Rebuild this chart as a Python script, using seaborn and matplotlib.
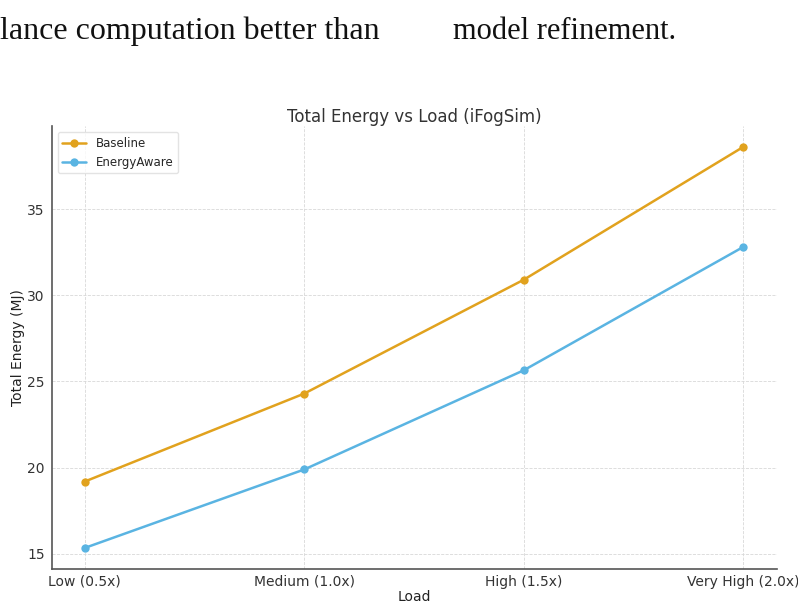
import pandas as pd
import matplotlib.pyplot as plt
import seaborn as sns

# data
loads = ["Low (0.5x)", "Medium (1.0x)", "High (1.5x)", "Very High (2.0x)"]
baseline = [19.2, 24.3, 30.9, 38.6]
energy_aware = [15.35, 19.9, 25.65, 32.8]
series_names = ["Baseline", "EnergyAware"]
palette = {"Baseline": "#E1A21E", "EnergyAware": "#5AB4E2"}

df = pd.DataFrame({
    "Load": loads * 2,
    "pos": list(range(len(loads))) * 2,
    "Total Energy (MJ)": baseline + energy_aware,
    "Series": [series_names[0]] * len(loads) + [series_names[1]] * len(loads),
})

sns.set_theme(style="white")
plt.rcParams['font.family'] = ['DejaVu Sans']

fig = plt.figure(figsize=(7.98, 6.04), dpi=100)
ax = fig.add_axes([0.065, 0.058, 0.909, 0.733])

sns.lineplot(data=df, x="pos", y="Total Energy (MJ)", hue="Series", palette=palette,
             marker="o", markersize=6, markeredgewidth=0, linewidth=1.8, ax=ax)

ax.set_xticks(range(len(loads)))
ax.set_xticklabels(loads, fontsize=10)
ax.set_xlim(-0.15, 3.155)
ax.set_ylim(14.13, 39.8)
ax.set_yticks([15, 20, 25, 30, 35])
ax.tick_params(axis="y", labelsize=10, length=3, pad=2, colors="#333333")
ax.tick_params(axis="x", length=3, pad=1, colors="#333333")
ax.grid(True, linestyle="--", linewidth=0.6, color="#d8d8d8")
ax.set_xlabel("Load", fontsize=10, color="#222222", labelpad=1)
ax.set_ylabel("Total Energy (MJ)", fontsize=10, color="#222222")
ax.yaxis.set_label_coords(-0.037, 0.5)
ax.set_title("Total Energy vs Load (iFogSim)", fontsize=12, color="#333333", pad=3)

for side in ["top", "right"]:
    ax.spines[side].set_visible(False)
for side in ["left", "bottom"]:
    ax.spines[side].set_color("#555555")
    ax.spines[side].set_linewidth(1.2)

leg = ax.legend(loc="upper left", fontsize=8.5, frameon=True, title=None)
leg.get_frame().set_edgecolor("#dddddd")

# surrounding page text from the screenshot
fig.text(0.0, 0.948, "lance computation better than", fontsize=23,
         family="Liberation Serif", va="center", ha="left", color="#111111")
fig.text(0.568, 0.948, "model refinement.", fontsize=22,
         family="Liberation Serif", va="center", ha="left", color="#111111")

fig.savefig("out.png", dpi=100)
